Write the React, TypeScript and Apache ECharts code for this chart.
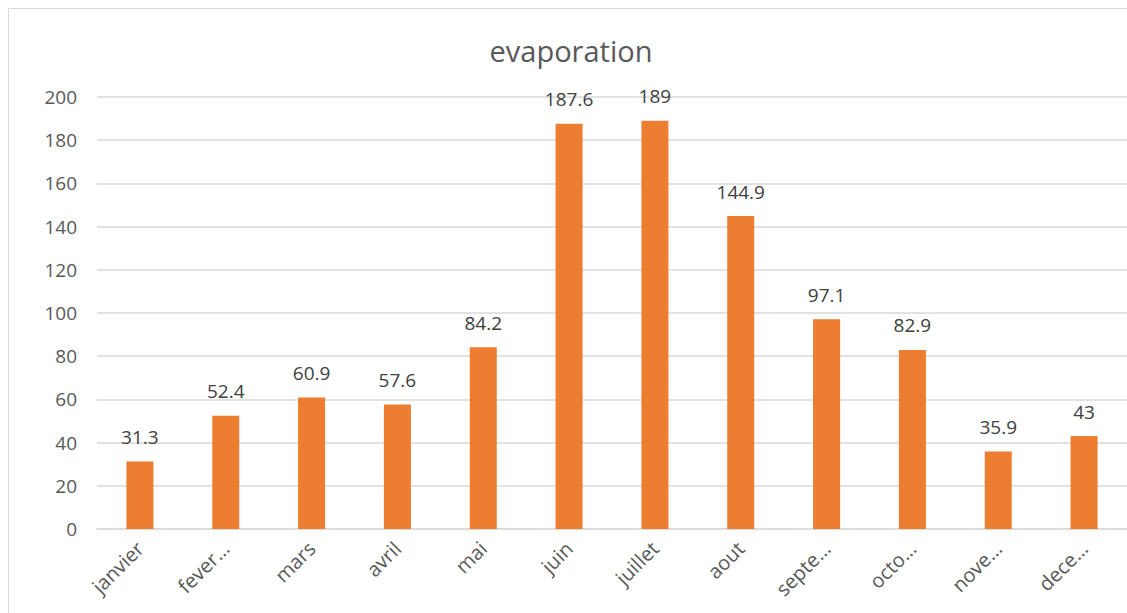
import React, { useEffect, useRef } from "react";
import * as echarts from "echarts";

const categories = ["janvier", "fever…", "mars", "avril", "mai", "juin", "juillet", "aout", "septe…", "octo…", "nove…", "dece…"];
const evaporation = [31.3, 52.4, 60.9, 57.6, 84.2, 187.6, 189, 144.9, 97.1, 82.9, 35.9, 43];
const yTicks = { min: 0, max: 200, interval: 20 };

export default function App() {
  const ref = useRef<HTMLDivElement>(null);
  useEffect(() => {
    if (!ref.current) return;
    const chart = echarts.init(ref.current, undefined, { renderer: "svg" });
    const font = "'Open Sans', 'Noto Sans', sans-serif";
    chart.setOption({
      animation: false,
      backgroundColor: "#ffffff",
      textStyle: { fontFamily: font },
      title: {
        text: "evaporation",
        left: 566,
        top: 31,
        textAlign: "center",
        textStyle: { fontSize: 29, fontWeight: "normal", color: "#595959", fontFamily: font },
      },
      graphic: [
        {
          type: "rect",
          shape: { x: 8.5, y: 8.5, width: 1140, height: 620 },
          style: { fill: "none", stroke: "#d9d9d9", lineWidth: 1 },
          silent: true,
        },
      ],
      grid: { left: 97, top: 97, width: 1038, height: 432, containLabel: false },
      xAxis: {
        type: "category",
        data: categories,
        axisLine: { show: true, lineStyle: { color: "#d9d9d9", width: 1.5 } },
        axisTick: { show: false },
        axisLabel: { rotate: 45, fontSize: 20, color: "#595959", margin: 16, interval: 0, fontFamily: font },
      },
      yAxis: {
        type: "value",
        min: yTicks.min,
        max: yTicks.max,
        interval: yTicks.interval,
        axisLine: { show: false },
        axisTick: { show: false },
        splitLine: { lineStyle: { color: "#d9d9d9", width: 1.5 } },
        axisLabel: { fontSize: 19, color: "#595959", margin: 20, fontFamily: font },
      },
      series: [
        {
          type: "bar",
          data: evaporation,
          barWidth: 27,
          itemStyle: { color: "#ED7D31" },
          label: {
            show: true,
            position: "top",
            distance: 15,
            fontSize: 19,
            color: "#404040",
            fontFamily: font,
          },
        },
      ],
    });
    return () => chart.dispose();
  }, []);
  return <div ref={ref} style={{ position: "absolute", left: 0, top: 0, width: 1127, height: 613 }} />;
}
